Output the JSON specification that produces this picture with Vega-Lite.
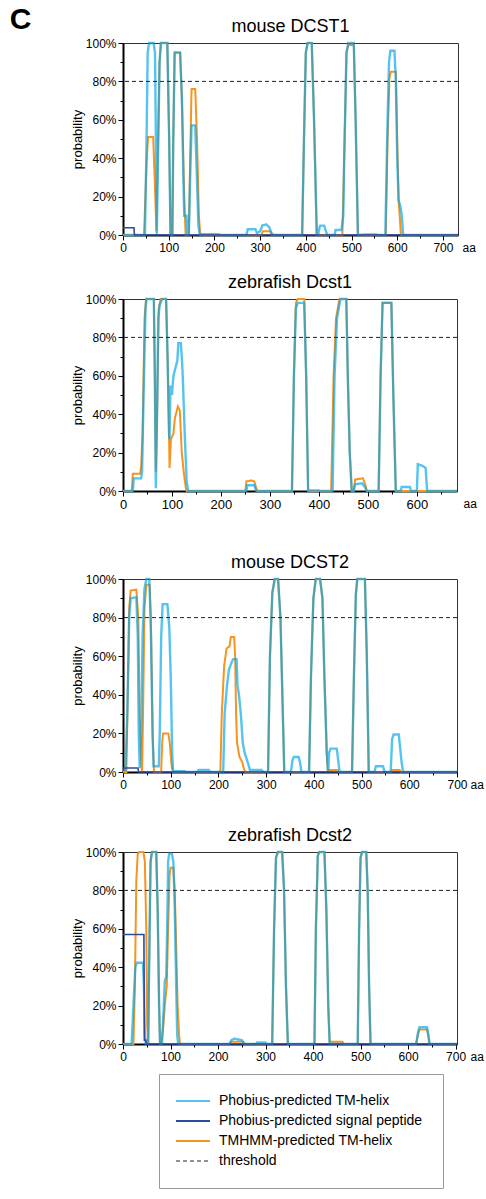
{
"$schema": "https://vega.github.io/schema/vega-lite/v6.json",
"padding": {"left": 9, "top": 4, "right": 2, "bottom": 2},
"title": {"text": "C", "anchor": "start", "frame": "bounds", "fontSize": 30, "fontWeight": "bold", "offset": -17, "dx": -61},
"datasets": {
"thr": [{"p": 0.8}],
"m1T": [{"a":0,"p":0},{"a":46,"p":0},{"a":52,"p":0.4},{"a":55,"p":0.51},{"a":66,"p":0.51},{"a":70,"p":0.25},{"a":73,"p":0.02},{"a":75,"p":0.3},{"a":80,"p":0.9},{"a":83,"p":1},{"a":97,"p":1},{"a":101,"p":0.5},{"a":104,"p":0},{"a":108,"p":0},{"a":110,"p":0.5},{"a":113,"p":0.95},{"a":125,"p":0.95},{"a":129,"p":0.7},{"a":134,"p":0.2},{"a":137,"p":0},{"a":144,"p":0},{"a":147,"p":0.4},{"a":150,"p":0.76},{"a":158,"p":0.76},{"a":162,"p":0.5},{"a":166,"p":0.1},{"a":169,"p":0},{"a":303,"p":0},{"a":306,"p":0.019},{"a":322,"p":0.019},{"a":326,"p":0},{"a":392,"p":0},{"a":396,"p":0.5},{"a":400,"p":0.95},{"a":404,"p":1},{"a":413,"p":1},{"a":418,"p":0.6},{"a":424,"p":0},{"a":480,"p":0},{"a":484,"p":0.4},{"a":489,"p":0.95},{"a":493,"p":0.99},{"a":505,"p":0.99},{"a":509,"p":0.6},{"a":514,"p":0},{"a":575,"p":0},{"a":579,"p":0.5},{"a":583,"p":0.82},{"a":586,"p":0.85},{"a":597,"p":0.85},{"a":600,"p":0.5},{"a":603,"p":0.18},{"a":606,"p":0.08},{"a":608,"p":0},{"a":733,"p":0}],
"m1B": [{"a":0,"p":0},{"a":48,"p":0},{"a":51,"p":0.4},{"a":54,"p":0.95},{"a":57,"p":1},{"a":67,"p":1},{"a":70,"p":0.95},{"a":72,"p":0.5},{"a":74,"p":0},{"a":76,"p":0.3},{"a":80,"p":0.9},{"a":83,"p":1},{"a":97,"p":1},{"a":101,"p":0.5},{"a":104,"p":0},{"a":108,"p":0},{"a":110,"p":0.5},{"a":113,"p":0.95},{"a":125,"p":0.95},{"a":129,"p":0.7},{"a":132,"p":0.3},{"a":134,"p":0.1},{"a":139,"p":0.1},{"a":141,"p":0},{"a":144,"p":0},{"a":147,"p":0.3},{"a":150,"p":0.57},{"a":158,"p":0.57},{"a":161,"p":0.35},{"a":165,"p":0.05},{"a":168,"p":0},{"a":170,"p":0.004},{"a":210,"p":0.004},{"a":212,"p":0},{"a":270,"p":0},{"a":273,"p":0.03},{"a":290,"p":0.03},{"a":293,"p":0.01},{"a":300,"p":0.02},{"a":305,"p":0.05},{"a":314,"p":0.055},{"a":320,"p":0.04},{"a":325,"p":0.01},{"a":330,"p":0},{"a":392,"p":0},{"a":396,"p":0.5},{"a":400,"p":0.95},{"a":404,"p":1},{"a":413,"p":1},{"a":418,"p":0.6},{"a":424,"p":0},{"a":427,"p":0},{"a":430,"p":0.04},{"a":432,"p":0.049},{"a":440,"p":0.049},{"a":444,"p":0.02},{"a":447,"p":0},{"a":463,"p":0},{"a":465,"p":0.026},{"a":478,"p":0.026},{"a":482,"p":0.1},{"a":484,"p":0.4},{"a":489,"p":0.95},{"a":493,"p":1},{"a":505,"p":1},{"a":509,"p":0.6},{"a":514,"p":0},{"a":530,"p":0.003},{"a":555,"p":0.003},{"a":558,"p":0},{"a":574,"p":0},{"a":578,"p":0.5},{"a":582,"p":0.9},{"a":585,"p":0.96},{"a":594,"p":0.96},{"a":597,"p":0.8},{"a":600,"p":0.4},{"a":603,"p":0.18},{"a":607,"p":0.15},{"a":610,"p":0.1},{"a":613,"p":0},{"a":733,"p":0}],
"m1S": [{"a":0,"p":0.038},{"a":24,"p":0.038},{"a":25,"p":0},{"a":733,"p":0}],
"z1T": [{"a":0,"p":0},{"a":18,"p":0},{"a":20,"p":0.09},{"a":35,"p":0.09},{"a":37,"p":0.13},{"a":40,"p":0.3},{"a":44,"p":0.9},{"a":47,"p":1},{"a":63,"p":1},{"a":65,"p":0.6},{"a":67,"p":0.1},{"a":69,"p":0.3},{"a":73,"p":0.95},{"a":77,"p":1},{"a":88,"p":1},{"a":91,"p":0.7},{"a":94,"p":0.3},{"a":95,"p":0.12},{"a":98,"p":0.27},{"a":103,"p":0.3},{"a":106,"p":0.38},{"a":112,"p":0.44},{"a":116,"p":0.42},{"a":120,"p":0.2},{"a":124,"p":0.1},{"a":128,"p":0.02},{"a":130,"p":0},{"a":250,"p":0},{"a":252,"p":0.05},{"a":262,"p":0.055},{"a":268,"p":0.05},{"a":274,"p":0},{"a":345,"p":0},{"a":349,"p":0.6},{"a":353,"p":0.98},{"a":357,"p":1},{"a":370,"p":1},{"a":374,"p":0.6},{"a":378,"p":0},{"a":425,"p":0},{"a":430,"p":0.6},{"a":435,"p":0.9},{"a":442,"p":1},{"a":456,"p":1},{"a":459,"p":0.6},{"a":463,"p":0.2},{"a":467,"p":0},{"a":471,"p":0},{"a":474,"p":0.06},{"a":490,"p":0.066},{"a":495,"p":0.03},{"a":498,"p":0},{"a":522,"p":0},{"a":526,"p":0.6},{"a":530,"p":0.98},{"a":548,"p":0.98},{"a":552,"p":0.5},{"a":557,"p":0},{"a":682,"p":0}],
"z1B": [{"a":0,"p":0},{"a":20,"p":0},{"a":22,"p":0.066},{"a":37,"p":0.066},{"a":39,"p":0.1},{"a":42,"p":0.5},{"a":46,"p":0.95},{"a":48,"p":1},{"a":63,"p":1},{"a":65,"p":0.6},{"a":67,"p":0.015},{"a":69,"p":0.3},{"a":72,"p":0.9},{"a":75,"p":0.97},{"a":80,"p":1},{"a":88,"p":1},{"a":91,"p":0.7},{"a":94,"p":0.3},{"a":95,"p":0.27},{"a":97,"p":0.55},{"a":100,"p":0.5},{"a":103,"p":0.6},{"a":107,"p":0.64},{"a":111,"p":0.68},{"a":113,"p":0.77},{"a":118,"p":0.77},{"a":120,"p":0.7},{"a":122,"p":0.6},{"a":126,"p":0.3},{"a":130,"p":0.05},{"a":133,"p":0},{"a":252,"p":0},{"a":254,"p":0.03},{"a":268,"p":0.03},{"a":272,"p":0},{"a":345,"p":0},{"a":349,"p":0.6},{"a":353,"p":0.95},{"a":357,"p":0.98},{"a":370,"p":0.98},{"a":374,"p":0.6},{"a":378,"p":0},{"a":380,"p":0.003},{"a":400,"p":0.003},{"a":402,"p":0},{"a":428,"p":0},{"a":432,"p":0.6},{"a":437,"p":0.9},{"a":444,"p":1},{"a":456,"p":1},{"a":459,"p":0.6},{"a":463,"p":0.2},{"a":467,"p":0},{"a":471,"p":0},{"a":474,"p":0.035},{"a":488,"p":0.04},{"a":494,"p":0.02},{"a":498,"p":0},{"a":522,"p":0},{"a":526,"p":0.6},{"a":530,"p":0.98},{"a":548,"p":0.98},{"a":552,"p":0.5},{"a":557,"p":0},{"a":567,"p":0},{"a":569,"p":0.021},{"a":586,"p":0.021},{"a":588,"p":0},{"a":600,"p":0},{"a":602,"p":0.14},{"a":612,"p":0.13},{"a":618,"p":0.12},{"a":621,"p":0},{"a":682,"p":0}],
"m2T": [{"a":0,"p":0},{"a":7,"p":0},{"a":10,"p":0.4},{"a":13,"p":0.85},{"a":16,"p":0.94},{"a":28,"p":0.945},{"a":32,"p":0.8},{"a":35,"p":0.3},{"a":38,"p":0.05},{"a":40,"p":0},{"a":42,"p":0.3},{"a":45,"p":0.85},{"a":49,"p":0.97},{"a":56,"p":0.97},{"a":59,"p":0.7},{"a":62,"p":0.2},{"a":65,"p":0},{"a":80,"p":0},{"a":82,"p":0.15},{"a":84,"p":0.2},{"a":95,"p":0.2},{"a":98,"p":0.15},{"a":102,"p":0.03},{"a":105,"p":0},{"a":204,"p":0},{"a":207,"p":0.3},{"a":212,"p":0.55},{"a":217,"p":0.64},{"a":223,"p":0.65},{"a":226,"p":0.7},{"a":233,"p":0.7},{"a":235,"p":0.6},{"a":237,"p":0.3},{"a":239,"p":0.15},{"a":244,"p":0.08},{"a":250,"p":0.05},{"a":253,"p":0.02},{"a":256,"p":0},{"a":304,"p":0},{"a":308,"p":0.6},{"a":313,"p":0.93},{"a":318,"p":1},{"a":325,"p":1},{"a":330,"p":0.8},{"a":334,"p":0.4},{"a":338,"p":0},{"a":390,"p":0},{"a":394,"p":0.5},{"a":399,"p":0.9},{"a":404,"p":1},{"a":413,"p":1},{"a":418,"p":0.9},{"a":422,"p":0.5},{"a":427,"p":0.1},{"a":429,"p":0.01},{"a":450,"p":0.01},{"a":452,"p":0},{"a":480,"p":0},{"a":484,"p":0.5},{"a":488,"p":0.92},{"a":491,"p":1},{"a":507,"p":1},{"a":511,"p":0.6},{"a":515,"p":0},{"a":562,"p":0},{"a":564,"p":0.01},{"a":580,"p":0.01},{"a":582,"p":0},{"a":700,"p":0}],
"m2B": [{"a":0,"p":0.01},{"a":5,"p":0.01},{"a":9,"p":0.3},{"a":13,"p":0.8},{"a":16,"p":0.9},{"a":28,"p":0.906},{"a":31,"p":0.7},{"a":33,"p":0.2},{"a":35,"p":0.02},{"a":38,"p":0.2},{"a":41,"p":0.7},{"a":45,"p":0.95},{"a":49,"p":1},{"a":55,"p":1},{"a":58,"p":0.8},{"a":62,"p":0.2},{"a":64,"p":0.03},{"a":75,"p":0.03},{"a":77,"p":0.2},{"a":80,"p":0.7},{"a":83,"p":0.87},{"a":93,"p":0.87},{"a":97,"p":0.75},{"a":100,"p":0.5},{"a":103,"p":0.1},{"a":105,"p":0},{"a":108,"p":0.004},{"a":130,"p":0.004},{"a":132,"p":0},{"a":156,"p":0},{"a":158,"p":0.01},{"a":180,"p":0.01},{"a":182,"p":0},{"a":210,"p":0},{"a":213,"p":0.3},{"a":218,"p":0.45},{"a":222,"p":0.53},{"a":228,"p":0.57},{"a":231,"p":0.585},{"a":238,"p":0.585},{"a":240,"p":0.45},{"a":243,"p":0.4},{"a":247,"p":0.3},{"a":251,"p":0.15},{"a":255,"p":0.1},{"a":260,"p":0.06},{"a":264,"p":0.03},{"a":266,"p":0.01},{"a":290,"p":0.01},{"a":295,"p":0},{"a":304,"p":0},{"a":308,"p":0.6},{"a":313,"p":0.93},{"a":318,"p":1},{"a":325,"p":1},{"a":330,"p":0.8},{"a":334,"p":0.4},{"a":338,"p":0},{"a":352,"p":0},{"a":355,"p":0.06},{"a":358,"p":0.078},{"a":368,"p":0.078},{"a":371,"p":0.05},{"a":374,"p":0},{"a":390,"p":0},{"a":394,"p":0.5},{"a":399,"p":0.9},{"a":404,"p":1},{"a":413,"p":1},{"a":418,"p":0.9},{"a":422,"p":0.5},{"a":427,"p":0.1},{"a":430,"p":0},{"a":432,"p":0.1},{"a":435,"p":0.121},{"a":448,"p":0.121},{"a":451,"p":0.06},{"a":454,"p":0},{"a":480,"p":0},{"a":484,"p":0.5},{"a":488,"p":0.92},{"a":491,"p":1},{"a":507,"p":1},{"a":511,"p":0.6},{"a":515,"p":0},{"a":527,"p":0},{"a":530,"p":0.03},{"a":545,"p":0.03},{"a":548,"p":0},{"a":561,"p":0},{"a":564,"p":0.17},{"a":567,"p":0.194},{"a":578,"p":0.194},{"a":581,"p":0.12},{"a":584,"p":0.05},{"a":587,"p":0},{"a":700,"p":0}],
"m2S": [{"a":0,"p":0.021},{"a":31,"p":0.021},{"a":33,"p":0},{"a":700,"p":0}],
"z2T": [{"a":0,"p":0},{"a":22,"p":0},{"a":25,"p":0.3},{"a":28,"p":0.85},{"a":31,"p":0.99},{"a":34,"p":1},{"a":43,"p":1},{"a":46,"p":0.95},{"a":49,"p":0.6},{"a":51,"p":0.1},{"a":53,"p":0},{"a":55,"p":0.4},{"a":58,"p":0.95},{"a":61,"p":1},{"a":70,"p":1},{"a":73,"p":0.7},{"a":76,"p":0.2},{"a":78,"p":0},{"a":81,"p":0},{"a":85,"p":0.1},{"a":88,"p":0.2},{"a":92,"p":0.3},{"a":95,"p":0.6},{"a":98,"p":0.88},{"a":100,"p":0.918},{"a":106,"p":0.918},{"a":109,"p":0.8},{"a":112,"p":0.5},{"a":115,"p":0.2},{"a":118,"p":0.05},{"a":120,"p":0},{"a":224,"p":0},{"a":228,"p":0.012},{"a":252,"p":0.012},{"a":256,"p":0},{"a":314,"p":0},{"a":318,"p":0.6},{"a":322,"p":0.97},{"a":326,"p":1},{"a":335,"p":1},{"a":339,"p":0.8},{"a":343,"p":0.3},{"a":347,"p":0},{"a":403,"p":0},{"a":406,"p":0.6},{"a":410,"p":0.98},{"a":413,"p":1},{"a":424,"p":1},{"a":428,"p":0.7},{"a":432,"p":0.2},{"a":435,"p":0.012},{"a":462,"p":0.012},{"a":464,"p":0},{"a":494,"p":0},{"a":497,"p":0.6},{"a":500,"p":0.97},{"a":503,"p":1},{"a":512,"p":1},{"a":515,"p":0.8},{"a":518,"p":0.3},{"a":521,"p":0},{"a":617,"p":0},{"a":621,"p":0.05},{"a":624,"p":0.075},{"a":640,"p":0.075},{"a":643,"p":0.04},{"a":645,"p":0},{"a":703,"p":0}],
"z2B": [{"a":0,"p":0},{"a":18,"p":0},{"a":22,"p":0.2},{"a":26,"p":0.4},{"a":29,"p":0.423},{"a":42,"p":0.423},{"a":44,"p":0.3},{"a":46,"p":0.05},{"a":48,"p":0},{"a":53,"p":0},{"a":55,"p":0.4},{"a":58,"p":0.95},{"a":61,"p":1},{"a":70,"p":1},{"a":73,"p":0.7},{"a":76,"p":0.2},{"a":78,"p":0},{"a":82,"p":0},{"a":85,"p":0.15},{"a":88,"p":0.33},{"a":91,"p":0.35},{"a":93,"p":0.6},{"a":95,"p":0.95},{"a":97,"p":0.99},{"a":103,"p":0.99},{"a":106,"p":0.95},{"a":109,"p":0.7},{"a":112,"p":0.3},{"a":114,"p":0.05},{"a":116,"p":0},{"a":224,"p":0},{"a":228,"p":0.02},{"a":234,"p":0.028},{"a":250,"p":0.02},{"a":256,"p":0},{"a":280,"p":0},{"a":282,"p":0.008},{"a":300,"p":0.008},{"a":302,"p":0},{"a":314,"p":0},{"a":318,"p":0.6},{"a":322,"p":0.97},{"a":326,"p":1},{"a":335,"p":1},{"a":339,"p":0.8},{"a":343,"p":0.3},{"a":347,"p":0},{"a":403,"p":0},{"a":406,"p":0.6},{"a":410,"p":0.98},{"a":413,"p":1},{"a":424,"p":1},{"a":428,"p":0.7},{"a":432,"p":0.2},{"a":435,"p":0},{"a":494,"p":0},{"a":497,"p":0.6},{"a":500,"p":0.97},{"a":503,"p":1},{"a":512,"p":1},{"a":515,"p":0.8},{"a":518,"p":0.3},{"a":521,"p":0},{"a":617,"p":0},{"a":621,"p":0.06},{"a":624,"p":0.087},{"a":640,"p":0.087},{"a":643,"p":0.04},{"a":645,"p":0},{"a":703,"p":0}],
"z2S": [{"a":0,"p":0.57},{"a":44,"p":0.57},{"a":45,"p":0.02},{"a":48,"p":0.02},{"a":49,"p":0},{"a":703,"p":0}]
},
"spacing": 41,
"vconcat": [
{"spacing": 19, "vconcat": [
{"title": "mouse DCST1", "width": 335, "height": 192,
 "layer": [
  {"data": {"name": "m1T"}, "mark": {"type": "line", "strokeWidth": 2},
   "encoding": {"x": {"field": "a", "type": "quantitative", "scale": {"domain": [0, 733], "nice": false, "zero": false},
     "axis": {"values": [0,50,100,150,200,250,300,350,400,450,500,550,600,650,700], "tickCount": 30, "labelExpr": "datum.value % 100 == 0 ? datum.label : ''", "tickSize": {"condition": {"test": "datum.value % 100 == 0", "value": 5}, "value": 3}, "labelFontSize": 12, "labelOverlap": false, "title": "aa", "titleX": 339, "titleY": 7, "titleAlign": "left", "titleBaseline": "top", "titleAngle": 0, "titleFontSize": 12}},
    "y": {"field": "p", "type": "quantitative", "scale": {"domain": [0, 1], "nice": false},
     "axis": {"values": [0,0.1,0.2,0.3,0.4,0.5,0.6,0.7,0.8,0.9,1], "tickCount": 30, "format": ".0%", "labelOverlap": false, "labelExpr": "round(datum.value*10) % 2 == 0 ? datum.label : ''", "tickSize": {"condition": {"test": "round(datum.value*10) % 2 == 0", "value": 5}, "value": 3}, "title": "probability"}},
    "color": {"datum": "TMHMM-predicted TM-helix"}, "strokeDash": {"datum": "TMHMM-predicted TM-helix"}}},
  {"data": {"name": "m1B"}, "mark": {"type": "line", "strokeWidth": 2.4, "opacity": 0.67},
   "encoding": {"x": {"field": "a", "type": "quantitative"}, "y": {"field": "p", "type": "quantitative"},
    "color": {"datum": "Phobius-predicted TM-helix"}, "strokeDash": {"datum": "Phobius-predicted TM-helix"}}},
  {"data": {"name": "m1S"}, "mark": {"type": "line", "strokeWidth": 1.6},
   "encoding": {"x": {"field": "a", "type": "quantitative"}, "y": {"field": "p", "type": "quantitative"},
    "color": {"datum": "Phobius-predicted signal peptide"}, "strokeDash": {"datum": "Phobius-predicted signal peptide"}}},
  {"data": {"name": "thr"}, "mark": {"type": "rule", "strokeWidth": 1},
   "encoding": {"y": {"field": "p", "type": "quantitative"}, "color": {"datum": "threshold"}, "strokeDash": {"datum": "threshold"}}}
 ]},
{"title": "zebrafish Dcst1", "width": 334, "height": 192,
 "layer": [
  {"data": {"name": "z1T"}, "mark": {"type": "line", "strokeWidth": 2},
   "encoding": {"x": {"field": "a", "type": "quantitative", "scale": {"domain": [0, 682], "nice": false, "zero": false},
     "axis": {"values": [0,50,100,150,200,250,300,350,400,450,500,550,600,650], "tickCount": 30, "labelExpr": "datum.value % 100 == 0 ? datum.label : ''", "tickSize": {"condition": {"test": "datum.value % 100 == 0", "value": 5}, "value": 3}, "labelFontSize": 13, "labelOverlap": false, "title": "aa", "titleX": 340, "titleY": 7, "titleAlign": "left", "titleBaseline": "top", "titleAngle": 0, "titleFontSize": 12}},
    "y": {"field": "p", "type": "quantitative", "scale": {"domain": [0, 1], "nice": false},
     "axis": {"values": [0,0.1,0.2,0.3,0.4,0.5,0.6,0.7,0.8,0.9,1], "tickCount": 30, "format": ".0%", "labelOverlap": false, "labelExpr": "round(datum.value*10) % 2 == 0 ? datum.label : ''", "tickSize": {"condition": {"test": "round(datum.value*10) % 2 == 0", "value": 5}, "value": 3}, "title": "probability"}},
    "color": {"datum": "TMHMM-predicted TM-helix"}, "strokeDash": {"datum": "TMHMM-predicted TM-helix"}}},
  {"data": {"name": "z1B"}, "mark": {"type": "line", "strokeWidth": 2.4, "opacity": 0.67},
   "encoding": {"x": {"field": "a", "type": "quantitative"}, "y": {"field": "p", "type": "quantitative"},
    "color": {"datum": "Phobius-predicted TM-helix"}, "strokeDash": {"datum": "Phobius-predicted TM-helix"}}},
  {"data": {"name": "thr"}, "mark": {"type": "rule", "strokeWidth": 1},
   "encoding": {"y": {"field": "p", "type": "quantitative"}, "color": {"datum": "threshold"}, "strokeDash": {"datum": "threshold"}}}
 ]}
]},
{"spacing": 35, "vconcat": [
{"title": "mouse DCST2", "width": 334, "height": 193,
 "layer": [
  {"data": {"name": "m2T"}, "mark": {"type": "line", "strokeWidth": 2},
   "encoding": {"x": {"field": "a", "type": "quantitative", "scale": {"domain": [0, 700], "nice": false, "zero": false},
     "axis": {"values": [0,50,100,150,200,250,300,350,400,450,500,550,600,650,700], "tickCount": 30, "labelExpr": "datum.value % 100 == 0 ? datum.label : ''", "tickSize": {"condition": {"test": "datum.value % 100 == 0", "value": 5}, "value": 3}, "labelFontSize": 12, "labelOverlap": false, "title": "aa", "titleX": 347, "titleY": 7, "titleAlign": "left", "titleBaseline": "top", "titleAngle": 0, "titleFontSize": 12}},
    "y": {"field": "p", "type": "quantitative", "scale": {"domain": [0, 1], "nice": false},
     "axis": {"values": [0,0.1,0.2,0.3,0.4,0.5,0.6,0.7,0.8,0.9,1], "tickCount": 30, "format": ".0%", "labelOverlap": false, "labelExpr": "round(datum.value*10) % 2 == 0 ? datum.label : ''", "tickSize": {"condition": {"test": "round(datum.value*10) % 2 == 0", "value": 5}, "value": 3}, "title": "probability"}},
    "color": {"datum": "TMHMM-predicted TM-helix"}, "strokeDash": {"datum": "TMHMM-predicted TM-helix"}}},
  {"data": {"name": "m2B"}, "mark": {"type": "line", "strokeWidth": 2.4, "opacity": 0.67},
   "encoding": {"x": {"field": "a", "type": "quantitative"}, "y": {"field": "p", "type": "quantitative"},
    "color": {"datum": "Phobius-predicted TM-helix"}, "strokeDash": {"datum": "Phobius-predicted TM-helix"}}},
  {"data": {"name": "m2S"}, "mark": {"type": "line", "strokeWidth": 1.6},
   "encoding": {"x": {"field": "a", "type": "quantitative"}, "y": {"field": "p", "type": "quantitative"},
    "color": {"datum": "Phobius-predicted signal peptide"}, "strokeDash": {"datum": "Phobius-predicted signal peptide"}}},
  {"data": {"name": "thr"}, "mark": {"type": "rule", "strokeWidth": 1},
   "encoding": {"y": {"field": "p", "type": "quantitative"}, "color": {"datum": "threshold"}, "strokeDash": {"datum": "threshold"}}}
 ]},
{"title": "zebrafish Dcst2", "width": 334, "height": 192,
 "layer": [
  {"data": {"name": "z2T"}, "mark": {"type": "line", "strokeWidth": 2},
   "encoding": {"x": {"field": "a", "type": "quantitative", "scale": {"domain": [0, 703], "nice": false, "zero": false},
     "axis": {"values": [0,50,100,150,200,250,300,350,400,450,500,550,600,650,700], "tickCount": 30, "labelExpr": "datum.value % 100 == 0 ? datum.label : ''", "tickSize": {"condition": {"test": "datum.value % 100 == 0", "value": 5}, "value": 3}, "labelFontSize": 12, "labelOverlap": false, "title": "aa", "titleX": 347, "titleY": 7, "titleAlign": "left", "titleBaseline": "top", "titleAngle": 0, "titleFontSize": 12}},
    "y": {"field": "p", "type": "quantitative", "scale": {"domain": [0, 1], "nice": false},
     "axis": {"values": [0,0.1,0.2,0.3,0.4,0.5,0.6,0.7,0.8,0.9,1], "tickCount": 30, "format": ".0%", "labelOverlap": false, "labelExpr": "round(datum.value*10) % 2 == 0 ? datum.label : ''", "tickSize": {"condition": {"test": "round(datum.value*10) % 2 == 0", "value": 5}, "value": 3}, "title": "probability"}},
    "color": {"datum": "TMHMM-predicted TM-helix"}, "strokeDash": {"datum": "TMHMM-predicted TM-helix"}}},
  {"data": {"name": "z2B"}, "mark": {"type": "line", "strokeWidth": 2.4, "opacity": 0.67},
   "encoding": {"x": {"field": "a", "type": "quantitative"}, "y": {"field": "p", "type": "quantitative"},
    "color": {"datum": "Phobius-predicted TM-helix"}, "strokeDash": {"datum": "Phobius-predicted TM-helix"}}},
  {"data": {"name": "z2S"}, "mark": {"type": "line", "strokeWidth": 1.6},
   "encoding": {"x": {"field": "a", "type": "quantitative"}, "y": {"field": "p", "type": "quantitative"},
    "color": {"datum": "Phobius-predicted signal peptide"}, "strokeDash": {"datum": "Phobius-predicted signal peptide"}}},
  {"data": {"name": "thr"}, "mark": {"type": "rule", "strokeWidth": 1},
   "encoding": {"y": {"field": "p", "type": "quantitative"}, "color": {"datum": "threshold",
     "scale": {"domain": ["Phobius-predicted TM-helix", "Phobius-predicted signal peptide", "TMHMM-predicted TM-helix", "threshold"], "range": ["#00A6E9", "#2E4A9A", "#F7931E", "#222222"]},
     "legend": {"orient": "none", "legendX": 36, "legendY": 1031, "title": null, "direction": "vertical", "symbolType": "stroke", "symbolSize": 1156, "symbolStrokeWidth": 2, "symbolOffset": 7, "labelFontSize": 14, "labelOffset": 19, "labelLimit": 0, "rowPadding": 6, "padding": 20, "strokeColor": "#999999", "labelColor": "#000",
       "encode": {"symbols": {"update": {"opacity": {"signal": "datum.value == 'Phobius-predicted TM-helix' ? 0.67 : 1"}, "strokeWidth": {"signal": "datum.value == 'threshold' ? 1 : 2"}}}}}},
    "strokeDash": {"datum": "threshold", "scale": {"domain": ["Phobius-predicted TM-helix", "Phobius-predicted signal peptide", "TMHMM-predicted TM-helix", "threshold"], "range": [[1, 0], [1, 0], [1, 0], [4, 3]]}}}}
 ]}
]}
],
"config": {
 "font": "Liberation Sans",
 "view": {"stroke": "#333333", "strokeWidth": 1},
 "title": {"fontSize": 18, "fontWeight": "normal", "offset": 1, "color": "#000"},
 "axis": {"domainColor": "#000", "domainWidth": 2, "tickColor": "#000", "tickWidth": 1, "labelColor": "#000", "titleColor": "#000", "grid": false, "labelFontSize": 12, "titleFontSize": 13, "titleFontWeight": "normal", "titlePadding": 1, "labelOverlap": false, "labelFlush": false, "labelPadding": 2}
}
}
